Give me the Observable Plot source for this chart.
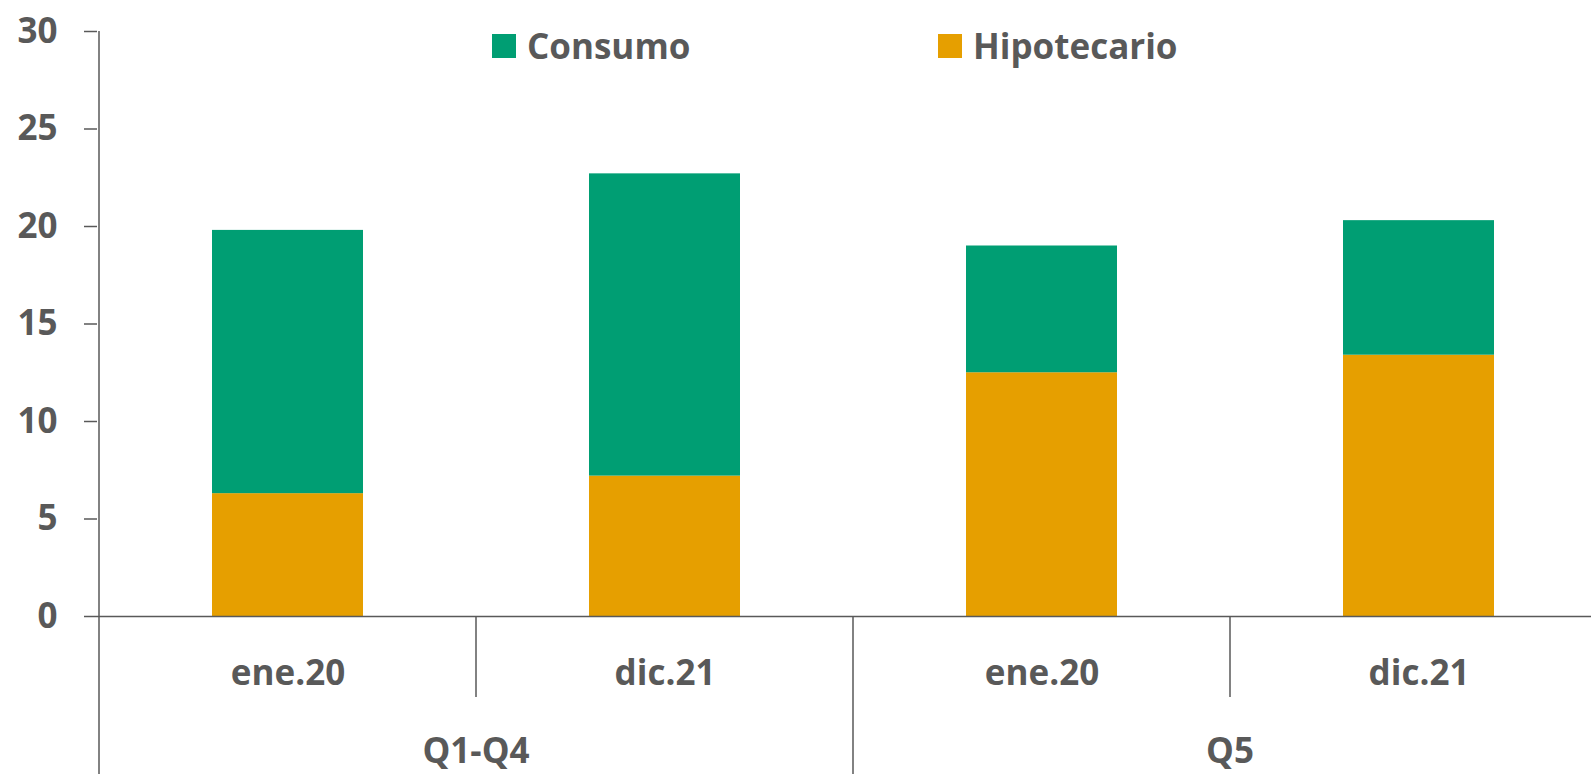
<!DOCTYPE html>
<html>
<head>
<meta charset="utf-8">
<script src="https://cdn.jsdelivr.net/npm/d3@7"></script>
<script src="https://cdn.jsdelivr.net/npm/@observablehq/plot@0.6"></script>
<style>
  html, body { margin: 0; padding: 0; background: #fff; overflow: hidden; }
  #wrap { position: relative; width: 1591px; height: 774px; overflow: hidden; }
  #wrap svg { max-width: none !important; height: 774px !important; width: 1608px !important; }
  .leg { position: absolute; top: 34px; height: 24px; display: flex; align-items: center; gap: 11px;
         font-family: 'Open Sans', sans-serif; font-weight: 700; font-size: 35px; color: #595959; }
  .leg .sw { width: 24px; height: 24px; }
  .leg span { line-height: 24px; white-space: nowrap; }
</style>
</head>
<body>
<div id="wrap"></div>
<script>
// ---- data ----
const groups = ["Q1-Q4", "Q1-Q4", "Q5", "Q5"];
const periods = ["ene.20", "dic.21", "ene.20", "dic.21"];
const hipotecario = [6.3, 7.2, 12.5, 13.4];
const consumo = [13.5, 15.5, 6.5, 6.9];
const series = ["Consumo", "Hipotecario"];
const colors = ["#009E73", "#E69F00"];
const yTicks = [0, 5, 10, 15, 20, 25, 30];

// ---- build table ----
const keys = groups.map((g, i) => g + "|" + periods[i]);
const rows = [];
keys.forEach((k, i) => {
  rows.push({key: k, serie: "Hipotecario", value: hipotecario[i]});
  rows.push({key: k, serie: "Consumo", value: consumo[i]});
});

const ink = "#595959";
const chart = Plot.plot({
  width: 1608,
  height: 774,
  marginLeft: 97,
  marginRight: 0,
  marginTop: 31,
  marginBottom: 158,
  style: {fontFamily: "'Open Sans', sans-serif", fontSize: "35px", fontWeight: 700, color: ink, background: "white", overflow: "visible", maxWidth: "none"},
  x: {domain: keys, padding: 0.6, paddingOuter: 0.3, label: null},
  y: {domain: [0, 30], label: null},
  color: {domain: series, range: colors},
  marks: [
    Plot.barY(rows, {x: "key", y: "value", fill: "serie", order: ["Hipotecario", "Consumo"]}),
    Plot.ruleY([0], {stroke: ink, strokeWidth: 1.5}),
    Plot.axisY({ticks: yTicks, tickSize: 13, tickPadding: 27, label: null, strokeWidth: 1.5}),
    Plot.axisX({tickSize: 0, tickPadding: 44, tickFormat: k => k.split("|")[1], label: null})
  ]
});

document.getElementById("wrap").appendChild(chart);

// ---- category separators, y axis line and group labels from the scales ----
const xs = chart.scale("x");
const ys = chart.scale("y");
const bw = xs.bandwidth;
const step = xs.step != null ? xs.step : (xs.apply(keys[1]) - xs.apply(keys[0]));
const gap = (step - bw) / 2;
const y0 = ys.apply(0);
const yTop = ys.apply(30);
const H = 774;
const g = d3.select(chart).append("g").attr("stroke", ink).attr("stroke-width", 1.5);

// y axis line
g.append("line").attr("x1", xs.apply(keys[0]) - gap).attr("x2", xs.apply(keys[0]) - gap)
  .attr("y1", yTop).attr("y2", y0);

keys.forEach((k, i) => {
  const bx = xs.apply(k) - gap;
  const newGroup = i === 0 || groups[i] !== groups[i - 1];
  g.append("line").attr("x1", bx).attr("x2", bx)
    .attr("y1", y0).attr("y2", newGroup ? H : y0 + 81);
});
// closing boundary
const lastX = xs.apply(keys[keys.length - 1]) + bw + gap;
g.append("line").attr("x1", lastX).attr("x2", lastX).attr("y1", y0).attr("y2", H);

const uniq = [...new Set(groups)];
const tg = d3.select(chart).append("g")
  .attr("fill", ink).attr("text-anchor", "middle")
  .attr("font-family", "'Open Sans', sans-serif").attr("font-weight", 700).attr("font-size", 35);
uniq.forEach(gr => {
  const idx = groups.map((v, i) => v === gr ? i : -1).filter(i => i >= 0);
  const start = xs.apply(keys[idx[0]]) - gap;
  const end = xs.apply(keys[idx[idx.length - 1]]) + bw + gap;
  tg.append("text").attr("x", (start + end) / 2).attr("y", y0 + 147).text(gr);
});

// ---- legend (inside the plot area, top) ----
const legendLeft = [492, 938];
const wrap = document.getElementById("wrap");
series.forEach((s, i) => {
  const d = document.createElement("div");
  d.className = "leg";
  d.style.left = legendLeft[i] + "px";
  d.innerHTML = `<div class="sw" style="background:${colors[i]}"></div><span>${s}</span>`;
  wrap.appendChild(d);
});
</script>
</body>
</html>
